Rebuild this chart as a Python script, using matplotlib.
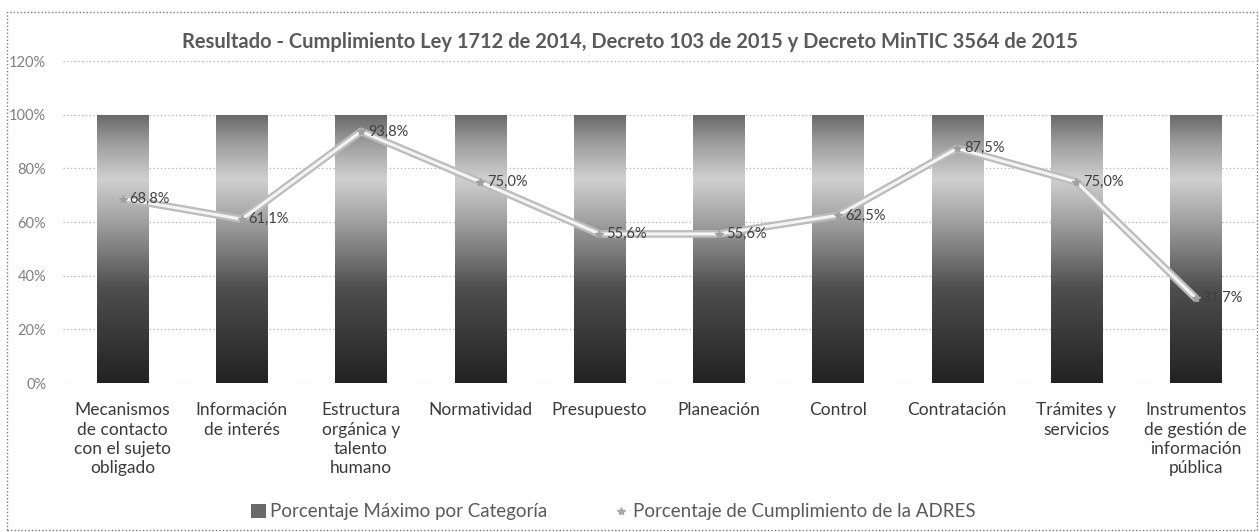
import numpy as np
import matplotlib
matplotlib.use("Agg")
import matplotlib.pyplot as plt
from matplotlib.colors import LinearSegmentedColormap
from matplotlib.lines import Line2D
from matplotlib.patches import Patch, Rectangle

plt.rcParams['font.family'] = ['Lato', 'DejaVu Sans']

categories = [
    "Mecanismos\nde contacto\ncon el sujeto\nobligado",
    "Información\nde interés",
    "Estructura\norgánica y\ntalento\nhumano",
    "Normatividad",
    "Presupuesto",
    "Planeación",
    "Control",
    "Contratación",
    "Trámites y\nservicios",
    "Instrumentos\nde gestión de\ninformación\npública",
]
maximo = [100, 100, 100, 100, 100, 100, 100, 100, 100, 100]
cumplimiento = [68.8, 61.1, 93.8, 75.0, 55.6, 55.6, 62.5, 87.5, 75.0, 31.7]
yticks = [0, 20, 40, 60, 80, 100, 120]

title = ("Resultado - Cumplimiento Ley 1712 de 2014, Decreto 103 de 2015 "
         "y Decreto MinTIC 3564 de 2015")
label_max = "Porcentaje Máximo por Categoría"
label_cum = "Porcentaje de Cumplimiento de la ADRES"

fig = plt.figure(figsize=(12.59, 5.32), dpi=100)
ax = fig.add_axes([0.050, 0.280, 0.947, 0.605])

x = np.arange(len(categories))
bar_w = 0.43

# vertical gradient: dark base, light band near the top, medium at the cap
grad_cmap = LinearSegmentedColormap.from_list(
    "bar_grad",
    [(0.0, "#222222"), (0.35, "#4e4e4e"), (0.60, "#a0a0a0"),
     (0.76, "#d0d0d0"), (0.90, "#9a9a9a"), (1.0, "#686868")])

bars = ax.bar(x, maximo, width=bar_w, color="none", edgecolor="none", zorder=2)
grad = np.linspace(0, 1, 256).reshape(-1, 1)
for b in bars:
    x0, w, h = b.get_x(), b.get_width(), b.get_height()
    im = ax.imshow(grad, cmap=grad_cmap, origin="lower", aspect="auto",
                   extent=[x0, x0 + w, 0, h], zorder=2, interpolation="bilinear")
    im.set_clip_path(b)

# compliance line drawn as a hollow light-gray stroke
ax.plot(x, cumplimiento, color="#bcbcbc", lw=5.5, solid_capstyle="round",
        solid_joinstyle="round", zorder=3)
ax.plot(x, cumplimiento, color="#f4f4f4", lw=2.2, solid_capstyle="round",
        solid_joinstyle="round", zorder=4)
ax.plot(x, cumplimiento, ls="none", marker="*", ms=6, color="#a0a0a0", zorder=5)

for xi, v in zip(x, cumplimiento):
    ax.annotate(f"{v:.1f}%".replace(".", ","), xy=(xi, v), xytext=(5, 0),
                textcoords="offset points", va="center", ha="left",
                fontsize=10.5, color="#404040", zorder=6)

ax.set_xlim(-0.5, len(categories) - 0.5)
ax.set_ylim(0, 120)
ax.set_yticks(yticks)
ax.set_yticklabels([f"{t}%" for t in yticks], fontsize=10.5, color="#808080")
ax.set_xticks(x)
ax.set_xticklabels(categories, fontsize=12.5, color="#3a3a3a", linespacing=1.25,
                   va="top")
ax.tick_params(axis="both", length=0)
ax.tick_params(axis="x", pad=14)
ax.tick_params(axis="y", pad=12)
for s in ax.spines.values():
    s.set_visible(False)
ax.yaxis.grid(True, color="#b0b0b0", ls=(0, (1, 2)), lw=0.9)
ax.set_axisbelow(True)

fig.text(0.5, 1 - 42 / 532, title, ha="center", va="center",
         fontsize=14.5, fontweight="bold", color="#5a5a5a")

handles = [
    Patch(facecolor="#6a6a6a", edgecolor="none"),
    Line2D([0], [0], color="none", lw=0, marker="*", ms=6,
           markerfacecolor="#a8a8a8", markeredgecolor="#a8a8a8"),
]
fig.legend(handles, [label_max, label_cum], loc="center",
           bbox_to_anchor=(0.487, 1 - 512 / 532), ncol=2, frameon=False,
           fontsize=13.5, labelcolor="#5a5a5a", handlelength=0.8,
           handletextpad=0.25, columnspacing=3.5)

# dotted outer frame of the chart area
fig.patches.append(Rectangle((7 / 1259, 0.003), 1 - 9 / 1259, 1 - 12 / 532 - 0.003,
                             transform=fig.transFigure, fill=False,
                             edgecolor="#7a7a7a", ls=(0, (1, 1.5)), lw=1.0))

fig.savefig("out.png", dpi=100)
